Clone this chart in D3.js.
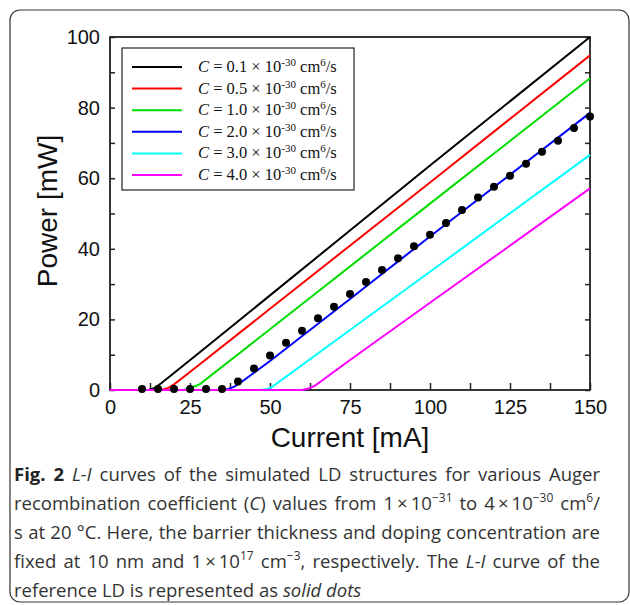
<!DOCTYPE html>
<html>
<head>
<meta charset="utf-8">
<script src="https://cdn.jsdelivr.net/npm/d3@7"></script>
<style>
  body { margin: 0; background: #fff; }
  svg { display: block; }
</style>
</head>
<body>
<svg id="chart" width="630" height="605"></svg>
<script>
// series (current in mA, power in mW)
const series_names = ["0.1", "0.5", "1.0", "2.0", "3.0", "4.0"];
const series_colors = ["#000000", "#ff0000", "#00dd00", "#0000ff", "#00ffff", "#ff00ff"];
const current_01 = [0, 12, 14, 16, 20, 30, 50, 100, 150];
const power_01   = [0, 0, 0.6, 1.9, 4.8, 12.1, 26.8, 63.6, 100];
const current_05 = [0, 16, 18, 20, 25, 50, 100, 150];
const power_05   = [0, 0, 0.5, 1.6, 5.1, 23.0, 58.8, 94.8];
const current_10 = [0, 23, 25, 28, 50, 100, 150];
const power_10   = [0, 0, 0.5, 1.6, 17.2, 52.8, 88.3];
const current_20 = [0, 35, 37, 39, 41, 50, 75, 100, 150];
const power_20   = [0, 0, 0.3, 1.0, 2.2, 8.2, 25.8, 43.5, 78.5];
const current_30 = [0, 47, 49.3, 51, 75, 100, 150];
const power_30   = [0, 0, 0.3, 1.1, 17.0, 33.5, 66.6];
const current_40 = [0, 60, 62, 64, 75, 100, 150];
const power_40   = [0, 0, 0.4, 1.2, 8.5, 24.7, 57.1];
const series_current = [current_01, current_05, current_10, current_20, current_30, current_40];
const series_power = [power_01, power_05, power_10, power_20, power_30, power_40];

// reference LD (solid dots)
const dot_current = [10, 15, 20, 25, 30, 35, 40, 45, 50, 55, 60, 65, 70, 75, 80, 85, 90, 95, 100,
                     105, 110, 115, 120, 125, 130, 135, 140, 145, 150];
const dot_power = [0.3, 0.3, 0.3, 0.3, 0.3, 0.3, 2.4, 6.1, 9.8, 13.4, 16.8, 20.3, 23.6, 27.2, 30.6,
                   34.0, 37.3, 40.7, 44.0, 47.3, 51.0, 54.5, 57.6, 60.7, 64.1, 67.5, 70.6, 74.2, 77.5];

const x_ticks = [0, 25, 50, 75, 100, 125, 150];
const y_ticks = [0, 20, 40, 60, 80, 100];

const svg = d3.select("#chart"),
  margin = {top: 37, right: 40, bottom: 215, left: 110},
  width = +svg.attr("width") - margin.left - margin.right,
  height = +svg.attr("height") - margin.top - margin.bottom;

// figure frame
svg.append("rect")
  .attr("x", 10).attr("y", 10)
  .attr("width", 619).attr("height", 592)
  .attr("rx", 10)
  .attr("fill", "none")
  .attr("stroke", "#333")
  .attr("stroke-width", 1.2);

const g = svg.append("g").attr("transform", `translate(${margin.left},${margin.top})`);

const x = d3.scaleLinear().domain([0, 150]).range([0, width]);
const y = d3.scaleLinear().domain([0, 100]).range([height, 0]);

const minor_x = d3.range(0, 150.1, 12.5);
const minor_y = d3.range(0, 100.1, 10);

// bottom axis, ticks pointing up
g.append("g")
  .attr("transform", `translate(0,${height})`)
  .call(d3.axisBottom(x).tickValues(minor_x).tickSizeInner(-7).tickSizeOuter(0).tickFormat(""))
  .call(a => a.select(".domain").remove())
  .selectAll("line").attr("stroke", "#222").attr("stroke-width", 1.5);
g.append("g")
  .attr("transform", `translate(0,${height})`)
  .call(d3.axisBottom(x).tickValues(x_ticks).tickSize(0).tickPadding(10).tickFormat(d3.format("d")))
  .call(a => a.select(".domain").remove())
  .selectAll("text")
  .attr("font-family", "Liberation Sans, Arial, sans-serif")
  .attr("font-size", 20)
  .attr("fill", "#111");

// left axis, ticks pointing right
g.append("g")
  .call(d3.axisLeft(y).tickValues(minor_y).tickSizeInner(-5).tickSizeOuter(0).tickFormat(""))
  .call(a => a.select(".domain").remove())
  .selectAll("line").attr("stroke", "#222").attr("stroke-width", 1.5);
g.append("g")
  .call(d3.axisLeft(y).tickValues(y_ticks).tickSize(0).tickPadding(10).tickFormat(d3.format("d")))
  .call(a => a.select(".domain").remove())
  .selectAll("text")
  .attr("font-family", "Liberation Sans, Arial, sans-serif")
  .attr("font-size", 20)
  .attr("fill", "#111");

// right axis, ticks pointing left
g.append("g")
  .attr("transform", `translate(${width},0)`)
  .call(d3.axisRight(y).tickValues(minor_y).tickSizeInner(-5).tickSizeOuter(0).tickFormat(""))
  .call(a => a.select(".domain").remove())
  .selectAll("line").attr("stroke", "#222").attr("stroke-width", 1.5);

// plot frame
g.append("rect")
  .attr("width", width).attr("height", height)
  .attr("fill", "none")
  .attr("stroke", "#222")
  .attr("stroke-width", 1.8);

// curves
const line = d3.line().x(d => x(d[0])).y(d => y(d[1]));
series_current.forEach((cur, i) => {
  const pts = cur.map((c, j) => [c, series_power[i][j]]);
  g.append("path")
    .datum(pts)
    .attr("d", line)
    .attr("fill", "none")
    .attr("stroke", series_colors[i])
    .attr("stroke-width", 2);
});

// reference dots
g.selectAll("circle.dot")
  .data(dot_current.map((c, i) => [c, dot_power[i]]))
  .enter()
  .append("circle")
  .attr("class", "dot")
  .attr("cx", d => x(d[0]))
  .attr("cy", d => y(d[1]))
  .attr("r", 4)
  .attr("fill", "#000");

// legend
const legend = g.append("g").attr("transform", "translate(12,11)");
legend.append("rect")
  .attr("width", 232).attr("height", 142)
  .attr("fill", "#fff")
  .attr("stroke", "#222")
  .attr("stroke-width", 1.2);
series_names.forEach((name, i) => {
  const ly = 19 + i * 21.6;
  legend.append("line")
    .attr("x1", 10).attr("x2", 60)
    .attr("y1", ly).attr("y2", ly)
    .attr("stroke", series_colors[i])
    .attr("stroke-width", 2);
  const t = legend.append("text")
    .attr("x", 76).attr("y", ly + 5)
    .attr("font-family", "Liberation Serif, Times New Roman, serif")
    .attr("font-size", 16.5)
    .attr("fill", "#111");
  t.append("tspan").attr("font-style", "italic").text("C");
  t.append("tspan").text(` = ${name} × 10`);
  t.append("tspan").attr("font-size", 11).attr("dy", -6).text("-30");
  t.append("tspan").attr("dy", 6).text(" cm");
  t.append("tspan").attr("font-size", 11).attr("dy", -6).text("6");
  t.append("tspan").attr("dy", 6).text("/s");
});

// axis titles
svg.append("text")
  .attr("x", margin.left + width / 2)
  .attr("y", 447)
  .attr("text-anchor", "middle")
  .attr("font-family", "Liberation Sans, Arial, sans-serif")
  .attr("font-size", 28)
  .attr("fill", "#111")
  .text("Current [mA]");
svg.append("text")
  .attr("transform", "translate(57,211) rotate(-90)")
  .attr("text-anchor", "middle")
  .attr("font-family", "Liberation Sans, Arial, sans-serif")
  .attr("font-size", 28)
  .attr("fill", "#111")
  .text("Power [mW]");

// caption (justified, last line left)
const cap_font = "Open Sans, Noto Sans, sans-serif";
const cap_size = 18.5;
const cap_right = 600;
const cap_lines = [
  [["b", "Fig. 2 "], ["i", "L-I"], ["n", " curves of the simulated LD structures for various Auger"]],
  [["n", "recombination coefficient ("], ["i", "C"], ["n", ") values from 1\u2009×\u200910"], ["sup", "\u221231"],
   ["n", " to 4\u2009×\u200910"], ["sup", "\u221230"], ["n", " cm"], ["sup", "6"], ["n", "/"]],
  [["n", "s at 20 °C. Here, the barrier thickness and doping concentration are"]],
  [["n", "fixed at 10 nm and 1\u2009×\u200910"], ["sup", "17"], ["n", " cm"], ["sup", "\u22123"],
   ["n", ", respectively. The "], ["i", "L-I"], ["n", " curve of the"]],
  [["n", "reference LD is represented as "], ["i", "solid dots"]]
];
cap_lines.forEach((parts, i) => {
  const t = svg.append("text")
    .attr("x", 14)
    .attr("y", 481 + i * 29)
    .attr("font-family", cap_font)
    .attr("font-size", cap_size)
    .attr("fill", "#333");
  let raised = false;
  parts.forEach(p => {
    const s = t.append("tspan").text(p[1]);
    if (p[0] === "b") s.attr("font-weight", "bold").attr("fill", "#222");
    if (p[0] === "i") s.attr("font-style", "italic");
    if (p[0] === "sup") {
      s.attr("font-size", 12).attr("dy", raised ? 0 : -8);
      raised = true;
    } else if (raised) {
      s.attr("dy", 8);
      raised = false;
    }
  });
  if (i < cap_lines.length - 1) {
    const len = t.node().getComputedTextLength();
    const spaces = (t.text().match(/ /g) || []).length;
    const extra = (cap_right - 14) - len;
    if (extra > 0 && spaces > 0) t.attr("word-spacing", extra / spaces);
  }
});
</script>
</body>
</html>
